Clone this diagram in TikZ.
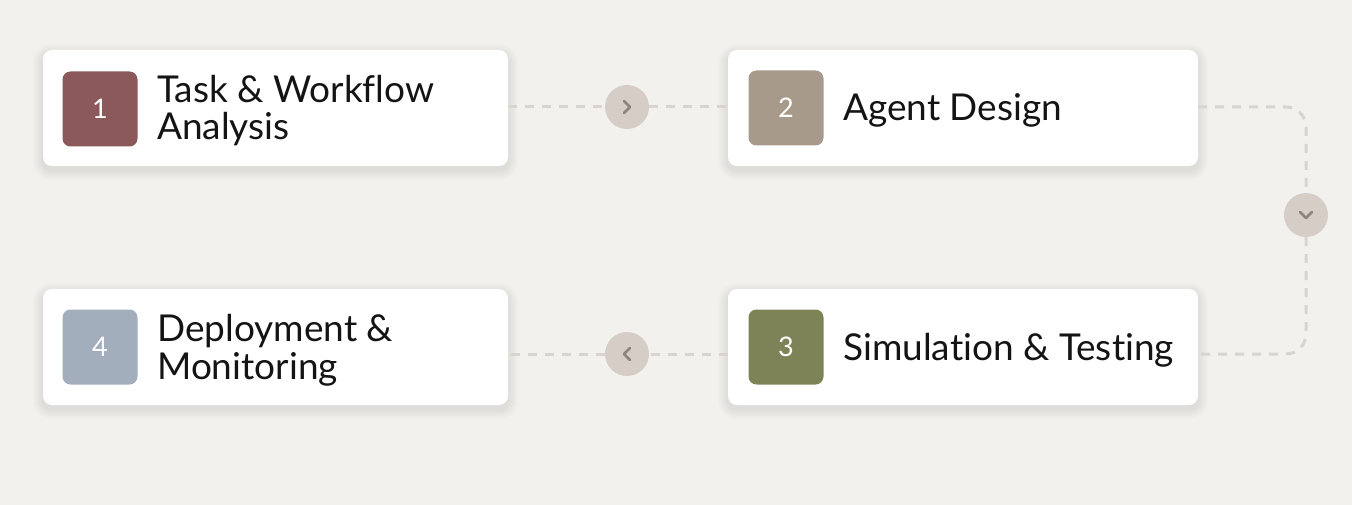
\documentclass[tikz,border=0pt]{standalone}
\usepackage{fontspec}
\setmainfont{Lato}[Ligatures=NoCommon]

\definecolor{bgpaper}{HTML}{F3F1EE}
\definecolor{stepone}{HTML}{8B5959}
\definecolor{steptwo}{HTML}{A89A8B}
\definecolor{stepthree}{HTML}{7E8357}
\definecolor{stepfour}{HTML}{A2AEBC}
\definecolor{linkgray}{HTML}{D9D4CF}
\definecolor{knobfill}{HTML}{D6CEC6}
\definecolor{chevgray}{HTML}{8E847C}
\definecolor{inktext}{HTML}{141414}

\pgfdeclarelayer{paper}
\pgfdeclarelayer{shade}
\pgfsetlayers{paper,shade,main}

\tikzset{
  card/.style={draw=none, fill=white, rounded corners=9pt,
    minimum height=116pt, inner sep=0pt},
  badge/.style={fill=#1, rounded corners=8pt, minimum size=75pt, inner sep=0pt,
    text=white, font=\fontsize{27}{27}\selectfont},
  label/.style={anchor=base west, align=left, inner sep=0pt, text=inktext,
    font=\fontsize{37}{37.5}\selectfont},
  link/.style={draw=linkgray, line width=3pt, dash pattern=on 9pt off 8pt},
  knob/.style={circle, fill=knobfill, minimum size=44pt, inner sep=0pt},
  chev/.style={draw=chevgray, line width=2.6pt, line cap=round, line join=round}
}

\begin{document}
\begin{tikzpicture}[x=1pt, y=-1pt]

\begin{pgfonlayer}{paper}
\fill[bgpaper] (0,0) rectangle (1352,505);
\end{pgfonlayer}
\useasboundingbox (0,0) rectangle (1352,505);

% cards
\node[card, minimum width=465pt] (t1) at (275.5,108) {};
\node[card, minimum width=470pt] (t2) at (963,108) {};
\node[card, minimum width=470pt] (t3) at (963,347) {};
\node[card, minimum width=465pt] (t4) at (275.5,347) {};

% soft shadows under the cards
\begin{pgfonlayer}{shade}
\foreach \c in {t1,t2,t3,t4}
  \foreach \s in {1,...,10}
    \fill[black, opacity=0.007, rounded corners=9+\s]
      ([shift={(-\s,-\s+4)}]\c.north west) rectangle ([shift={(\s,\s+4)}]\c.south east);
\end{pgfonlayer}

% links between cards
\node[knob] (k1) at (627,107) {};
\node[knob] (k2) at (1306,215) {};
\node[knob] (k3) at (627,354) {};

\draw[link] (t1.east |- k1) -- (k1.west);
\draw[link] (k1.east) -- (t2.west |- k1);
\draw[link, rounded corners=20pt] (t2.east |- k1) -| (k2.north);
\draw[link, rounded corners=20pt] (k2.south) |- (t3.east |- k3);
\draw[link] (t3.west |- k3) -- (k3.east);
\draw[link] (k3.west) -- (t4.east |- k3);

\draw[chev] ([shift={(-3,-6)}]k1.center) -- ++(6,6) -- ++(-6,6);
\draw[chev] ([shift={(-6,-3)}]k2.center) -- ++(6,6) -- ++(6,-6);
\draw[chev] ([shift={(3,-6)}]k3.center) -- ++(-6,6) -- ++(6,6);

% badges
\node[badge=stepone] (b1) at (100,109) {1};
\node[badge=steptwo] (b2) at (786,108) {2};
\node[badge=stepthree] (b3) at (786,347) {3};
\node[badge=stepfour] (b4) at (100,347) {4};

% titles
\node[label] (l1) at (157,140) {Task \& Workflow\\Analysis};
\node[label] (l2) at (843,121) {Agent Design};
\node[label] (l3) at (843,360) {Simulation \& Testing};
\node[label] (l4) at (157,379) {Deployment \&\\Monitoring};

\end{tikzpicture}
\end{document}
